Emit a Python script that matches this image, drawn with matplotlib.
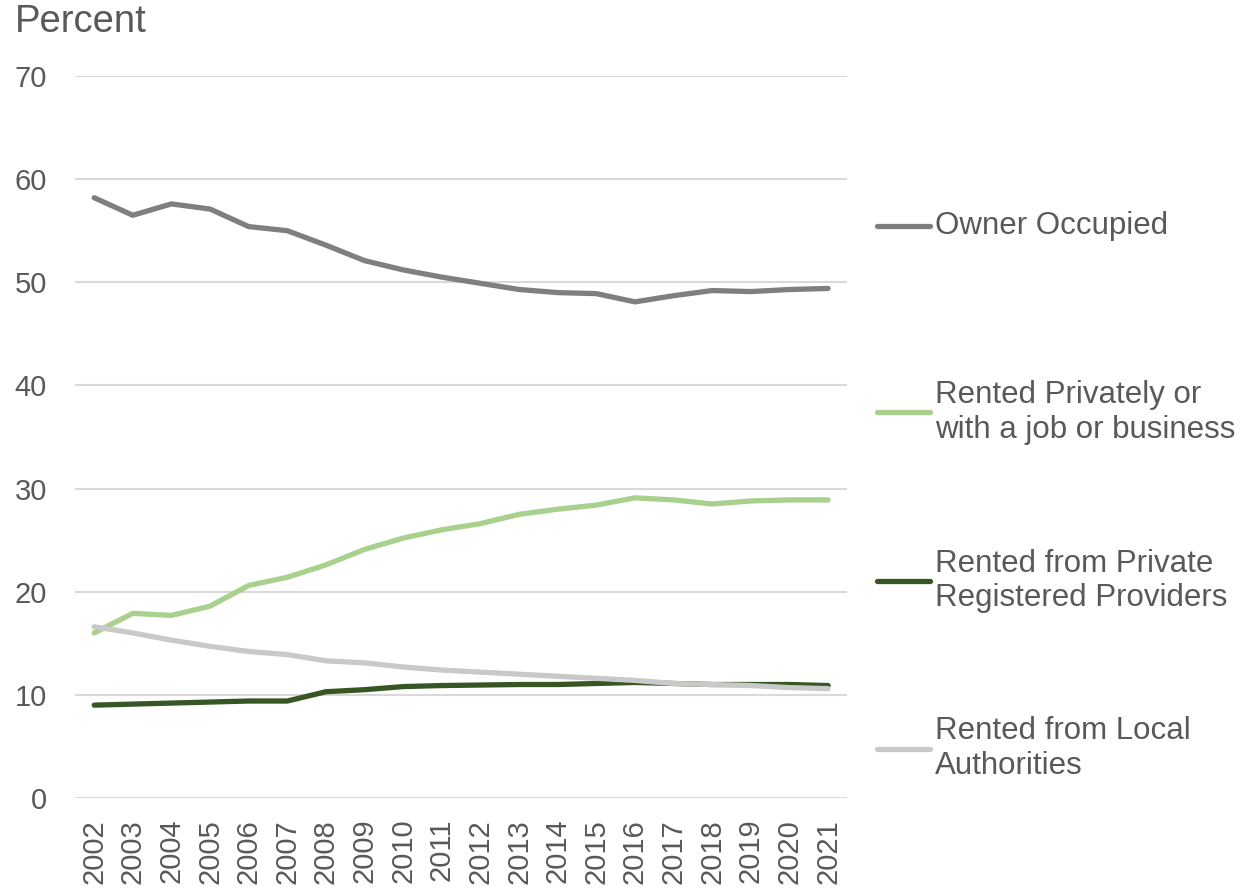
import matplotlib
matplotlib.use("Agg")
import matplotlib.pyplot as plt
from matplotlib.lines import Line2D
import numpy as np

plt.rcParams['font.family'] = ['Liberation Sans', 'DejaVu Sans']

years = list(range(2002, 2022))
owner = [58.2, 56.5, 57.6, 57.1, 55.4, 55.0, 53.6, 52.1, 51.2, 50.5,
         49.9, 49.3, 49.0, 48.9, 48.1, 48.7, 49.2, 49.1, 49.3, 49.4]
private_rent = [16.0, 17.9, 17.7, 18.6, 20.6, 21.4, 22.6, 24.1, 25.2, 26.0,
                26.6, 27.5, 28.0, 28.4, 29.1, 28.9, 28.5, 28.8, 28.9, 28.9]
reg_providers = [9.0, 9.1, 9.2, 9.3, 9.4, 9.4, 10.3, 10.5, 10.8, 10.9,
                 10.95, 11.0, 11.0, 11.1, 11.2, 11.1, 11.0, 11.0, 11.0, 10.9]
local_auth = [16.6, 16.0, 15.3, 14.7, 14.2, 13.9, 13.3, 13.1, 12.7, 12.4,
              12.2, 12.0, 11.8, 11.6, 11.4, 11.1, 11.0, 10.9, 10.7, 10.6]

series = [
    ("Owner Occupied", owner, "#7f7f7f"),
    ("Rented Privately or\nwith a job or business", private_rent, "#a9d18e"),
    ("Rented from Private\nRegistered Providers", reg_providers, "#375623"),
    ("Rented from Local\nAuthorities", local_auth, "#c9c9c9"),
]
legend_y = [0.746, 0.536, 0.346, 0.158]
text_col = "#595959"

fig = plt.figure(figsize=(12.48, 8.89), dpi=100)
ax = fig.add_axes([0.060, 0.1024, 0.619, 0.8121])

x = np.arange(len(years))
for (name, vals, col) in series:
    ax.plot(x, vals, color=col, lw=3.8, solid_capstyle='round', solid_joinstyle='round')

ax.set_xlim(-0.5, len(years) - 0.5)
ax.set_ylim(0, 70)
ax.set_yticks(range(0, 71, 10))
ax.set_xticks(x)
ax.set_xticklabels([str(y) for y in years], rotation=90)
ax.tick_params(axis='both', length=0, labelsize=21, labelcolor=text_col)
ax.tick_params(axis='y', pad=20)
ax.tick_params(axis='x', pad=15)
ax.grid(axis='y', color='#d9d9d9', lw=1.5)
ax.set_axisbelow(True)
for s in ax.spines.values():
    s.set_visible(False)

fig.text(0.012, 0.975, "Percent", fontsize=27.5, color=text_col, va='center', ha='left')

# legend drawn by hand to the right
for (name, vals, col), ly in zip(series, legend_y):
    fig.add_artist(Line2D([0.703, 0.745], [ly, ly], color=col, lw=3.8,
                          solid_capstyle='round', transform=fig.transFigure))
    fig.text(0.749, ly, name, fontsize=22.5, color=text_col, va='center', ha='left',
             linespacing=1.18)

fig.savefig("out.png", dpi=100)
